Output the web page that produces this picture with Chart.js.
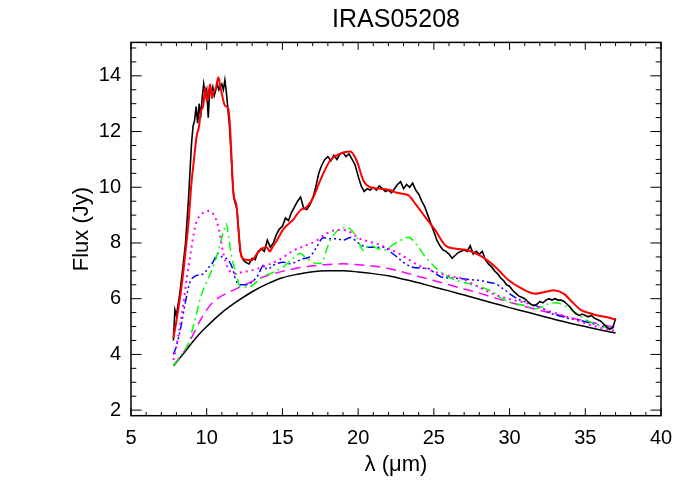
<!DOCTYPE html>
<html>
<head>
<meta charset="utf-8">
<script src="https://cdn.jsdelivr.net/npm/chart.js@4"></script>
<style>
  body { margin: 0; background: #fff; }
  #wrap { width: 700px; height: 500px; }
</style>
</head>
<body>
<div id="wrap"><canvas id="sed"></canvas></div>
<script>
// axis ticks
var xTickValues = [5, 10, 15, 20, 25, 30, 35, 40];
var yTickValues = [2, 4, 6, 8, 10, 12, 14];

// observed spectrum (black, noisy)
var obsWave = [7.8, 7.9, 8.0, 8.2, 8.4, 8.6, 8.8, 9.0, 9.1, 9.2,
  9.3, 9.4, 9.5, 9.6, 9.7, 9.8, 9.9, 10.0, 10.1, 10.2,
  10.3, 10.4, 10.5, 10.6, 10.7, 10.8, 10.9, 11.0, 11.1, 11.2,
  11.3, 11.4, 11.5, 11.6, 11.7, 11.8, 11.9, 12.0, 12.1, 12.2,
  12.4, 12.6, 12.8, 13.0, 13.2, 13.4, 13.6, 13.8, 14.0, 14.2,
  14.4, 14.6, 14.8, 15.0, 15.2, 15.4, 15.6, 15.8, 16.0, 16.2,
  16.4, 16.6, 16.8, 17.0, 17.2, 17.4, 17.6, 17.8, 18.0, 18.2,
  18.4, 18.6, 18.8, 19.0, 19.2, 19.4, 19.6, 19.8, 20.0, 20.2,
  20.4, 20.6, 20.8, 21.0, 21.2, 21.4, 21.6, 21.8, 22.0, 22.2,
  22.4, 22.6, 22.8, 23.0, 23.2, 23.4, 23.6, 23.8, 24.0, 24.2,
  24.4, 24.6, 24.8, 25.0, 25.2, 25.4, 25.6, 25.8, 26.0, 26.2,
  26.4, 26.6, 26.8, 27.0, 27.2, 27.4, 27.6, 27.8, 28.0, 28.2,
  28.4, 28.6, 28.8, 29.0, 29.2, 29.4, 29.6, 29.8, 30.0, 30.2,
  30.4, 30.6, 30.8, 31.0, 31.2, 31.4, 31.6, 31.8, 32.0, 32.2,
  32.4, 32.6, 32.8, 33.0, 33.2, 33.4, 33.6, 33.8, 34.0, 34.2,
  34.4, 34.6, 34.8, 35.0, 35.2, 35.4, 35.6, 35.8, 36.0, 36.2,
  36.4, 36.6, 36.8, 36.9, 37.0];
var obsFlux = [4.5, 5.6, 5.4, 6.1, 7.0, 8.0, 9.6, 11.6, 12.2, 12.4,
  12.9, 12.3, 13.0, 12.5, 13.2, 13.7, 13.3, 13.5, 12.5, 13.5,
  13.4, 13.6, 13.3, 13.5, 13.7, 13.5, 13.6, 13.7, 13.5, 13.85,
  13.4, 12.8, 12.2, 11.3, 10.3, 9.6, 9.4, 9.2, 8.5, 7.7,
  7.4, 7.3, 7.25, 7.45, 7.4, 7.7, 7.8, 7.7, 8.1, 7.85,
  8.0, 8.3, 8.5, 8.6, 8.9, 8.8, 9.1, 9.3, 9.5, 9.65,
  9.25, 9.2, 9.35, 9.6, 10.0, 10.5, 10.8, 11.0, 11.1, 10.95,
  11.15, 11.0, 11.2, 11.25, 11.1, 11.2, 11.0, 10.8, 10.4, 10.05,
  9.85, 9.95, 9.9, 10.0, 9.9, 10.05, 9.95, 9.85, 9.9, 9.8,
  9.95, 10.1, 10.2, 9.95, 10.1, 10.0, 10.15, 9.9, 9.75, 9.5,
  9.3, 9.0, 8.7, 8.4, 8.1, 7.9, 7.75, 7.7, 7.6, 7.45,
  7.55, 7.65, 7.7, 7.75, 7.7, 7.9, 7.6, 7.7, 7.6, 7.7,
  7.4, 7.25, 7.15, 7.0, 6.9, 6.75, 6.65, 6.5, 6.45, 6.3,
  6.2, 6.1, 6.05, 6.0, 5.9, 5.8, 5.75, 5.8, 5.9, 5.85,
  5.95, 6.0, 5.95, 6.0, 5.95, 5.95, 5.9, 5.8, 5.7, 5.55,
  5.45, 5.4, 5.45, 5.4, 5.35, 5.4, 5.3, 5.25, 5.2, 5.1,
  5.0, 4.9, 4.95, 5.1, 5.3];

// total model (red)
var modelWave = [7.8, 8.0, 8.2, 8.4, 8.6, 8.79, 9.0, 9.12, 9.34, 9.5,
  9.6, 9.78, 9.89, 10.0, 10.1, 10.22, 10.35, 10.44, 10.6, 10.77,
  10.9, 11.0, 11.2, 11.43, 11.54, 11.65, 11.76, 11.87, 11.98, 12.1,
  12.3, 12.6, 12.98, 13.3, 13.64, 13.97, 14.15, 14.4, 14.63, 15.07,
  15.73, 16.17, 16.61, 17.05, 17.49, 18.15, 18.8, 19.47, 19.9, 20.35,
  20.8, 21.68, 22.1, 22.56, 23.33, 23.77, 24.43, 25.1, 25.76, 26.4,
  27.3, 28.2, 29.06, 29.94, 30.82, 31.7, 32.4, 32.9, 33.57, 34.1,
  34.7, 35.3, 35.8, 36.3, 36.8, 37.0];
var modelFlux = [4.6, 5.2, 5.9, 6.7, 7.7, 8.69, 10.2, 10.8, 11.85, 12.2,
  12.7, 12.95, 13.59, 13.1, 13.25, 13.7, 13.2, 13.4, 13.55, 13.95,
  13.6, 13.35, 12.93, 12.81, 12.16, 10.96, 9.77, 9.53, 9.29, 8.45,
  7.5, 7.4, 7.38, 7.6, 7.8, 7.85, 7.7, 7.9, 8.09, 8.5,
  8.85, 9.17, 9.29, 9.65, 10.24, 10.96, 11.2, 11.28, 10.96, 10.24,
  10.0, 9.94, 9.9, 9.8, 9.71, 9.41, 8.93, 8.45, 7.91, 7.8,
  7.73, 7.5, 7.14, 6.66, 6.36, 6.18, 6.25, 6.3, 6.18, 5.9,
  5.6, 5.48, 5.4, 5.35, 5.28, 5.25];

// dust components
var contWave = [7.8, 8, 8.5, 9, 9.5, 10, 11, 12, 13, 14, 15, 16, 17, 18, 19, 20,
  21, 22, 23, 24, 25, 26, 27, 28, 29, 30, 31, 32, 33, 34, 35, 36, 37];
var contFlux = [3.58, 3.72, 4.05, 4.4, 4.72, 5.0, 5.5, 5.9, 6.25, 6.53, 6.75, 6.88, 6.97, 7.0, 7.0, 6.96,
  6.9, 6.82, 6.7, 6.57, 6.42, 6.28, 6.13, 5.98, 5.83, 5.68, 5.54, 5.4, 5.25, 5.12, 5.0, 4.88, 4.77];

var dashWave = [7.8, 8, 8.5, 9, 9.5, 10, 10.5, 11, 12, 13, 14, 15, 16, 17, 18, 19, 20,
  21, 22, 23, 24, 25, 26, 27, 28, 29, 30, 31, 32, 33, 34, 35, 36, 37];
var dashFlux = [3.6, 3.75, 4.1, 4.6, 5.15, 5.6, 5.92, 6.1, 6.37, 6.62, 6.83, 6.98, 7.1, 7.18, 7.23, 7.25, 7.22,
  7.17, 7.08, 6.95, 6.8, 6.65, 6.5, 6.35, 6.2, 6.03, 5.87, 5.72, 5.58, 5.45, 5.32, 5.2, 5.08, 4.97];

var blueWave = [7.8, 8.0, 8.3, 8.6, 8.9, 9.2, 9.5, 9.8, 10.1, 10.4,
  10.75, 11.0, 11.4, 11.7, 11.9, 12.2, 12.6, 13.0, 13.4, 13.75,
  14.0, 14.4, 15.07, 15.5, 16.0, 16.4, 16.8, 17.2, 17.7, 18.2,
  18.6, 19.0, 19.5, 20.0, 20.6, 21.2, 21.7, 22.2, 22.56, 23.0,
  23.55, 24.1, 24.65, 25.1, 25.5, 26.2, 26.86, 27.5, 27.96, 28.5,
  29.06, 29.6, 30.16, 30.7, 31.26, 31.7, 32.1, 32.6, 33.2, 33.8,
  34.7, 35.5, 36.2, 36.66, 37.0];
var blueFlux = [4.0, 4.3, 5.0, 5.9, 6.6, 6.8, 6.85, 6.9, 7.1, 7.3,
  7.62, 7.5, 7.4, 7.1, 6.7, 6.5, 6.5, 6.6, 6.85, 7.2,
  7.05, 7.2, 7.31, 7.25, 7.35, 7.44, 7.5, 7.8, 8.19, 8.15,
  8.15, 8.1, 8.2, 8.0, 7.85, 7.85, 7.85, 7.65, 7.5, 7.3,
  7.14, 7.1, 7.08, 6.9, 6.78, 6.74, 6.72, 6.68, 6.66, 6.6,
  6.54, 6.35, 6.12, 5.95, 5.85, 5.75, 5.68, 5.5, 5.4, 5.3,
  5.22, 5.1, 5.0, 4.93, 5.05];

var greenWave = [7.8, 8.2, 8.79, 9.2, 9.67, 10.0, 10.33, 10.77, 11.0, 11.21,
  11.3, 11.45, 11.65, 11.98, 12.2, 12.75, 13.3, 13.75, 14.19, 14.6,
  15.07, 15.6, 16.17, 16.5, 17.0, 17.5, 18.15, 18.8, 19.2, 19.47,
  19.9, 20.35, 20.8, 21.3, 21.8, 22.2, 22.56, 23.0, 23.33, 23.6,
  23.99, 24.3, 24.65, 25.3, 26.2, 27.3, 28.4, 29.0, 29.5, 30.4,
  31.0, 31.7, 32.2, 32.6, 33.1, 33.6, 34.0, 34.5, 35.1, 35.8,
  36.66, 37.0];
var greenFlux = [3.6, 3.9, 4.39, 5.2, 6.18, 6.6, 7.02, 7.73, 8.2, 8.57,
  8.69, 8.2, 7.5, 6.84, 6.42, 6.42, 6.6, 6.8, 6.9, 7.0,
  7.14, 7.4, 7.62, 7.5, 7.3, 7.26, 8.09, 8.51, 8.55, 8.51,
  8.21, 7.73, 7.91, 7.8, 7.75, 7.9, 8.03, 8.15, 8.21, 8.1,
  7.85, 7.6, 7.38, 7.02, 6.72, 6.54, 6.36, 6.2, 6.0, 5.82,
  5.75, 5.64, 5.72, 5.82, 5.85, 5.75, 5.64, 5.45, 5.22, 5.05,
  4.93, 4.9];

var dotWave = [7.8, 8.0, 8.2, 8.46, 8.7, 8.9, 9.23, 9.5, 9.89, 10.1,
  10.55, 10.8, 11.1, 11.4, 11.76, 12.42, 13.2, 13.97, 14.8, 15.73,
  16.5, 17.27, 17.8, 18.37, 18.8, 19.26, 19.7, 20.14, 20.7, 21.24,
  22.0, 22.78, 23.77, 24.4, 25.1, 26.0, 26.86, 27.5, 28.18, 28.8,
  29.5, 30.4, 31.26, 31.9, 32.47, 33.6, 34.7, 35.7, 36.66, 37.0];
var dotFlux = [3.8, 4.3, 4.9, 5.82, 6.8, 7.5, 8.57, 8.95, 9.11, 9.15,
  8.93, 8.5, 7.62, 7.1, 6.9, 6.96, 7.05, 7.2, 7.4, 7.73,
  7.9, 8.09, 8.3, 8.45, 8.47, 8.45, 8.3, 8.15, 8.05, 7.97,
  7.8, 7.6, 7.26, 7.1, 6.96, 6.82, 6.72, 6.55, 6.36, 6.2,
  6.06, 5.93, 5.82, 5.7, 5.58, 5.38, 5.17, 5.0, 4.87, 4.85];

// x/y pairs for the linear x axis
function pairs(xs, ys) {
  return xs.map(function(x, i) { return { x: x, y: ys[i] }; });
}

// box round the plot plus IDL style inward ticks
var frameTicks = {
  id: 'frameTicks',
  afterDatasetsDraw: function(chart) {
    var ctx = chart.ctx;
    var a = chart.chartArea;
    var xs = chart.scales.x;
    var ys = chart.scales.y;
    ctx.save();
    ctx.strokeStyle = '#000';
    ctx.lineWidth = 1.5;
    ctx.strokeRect(a.left, a.top, a.right - a.left, a.bottom - a.top);
    ctx.lineWidth = 1;
    ctx.beginPath();
    for (var v = xs.min; v <= xs.max + 0.001; v += 1) {
      var px = xs.getPixelForValue(v);
      var len = (Math.round(v) % 5 === 0) ? 7.5 : 3.7;
      ctx.moveTo(px, a.bottom); ctx.lineTo(px, a.bottom - len);
      ctx.moveTo(px, a.top); ctx.lineTo(px, a.top + len);
    }
    for (var w = 2; w <= ys.max + 0.001; w += 0.5) {
      var py = ys.getPixelForValue(w);
      var ylen = (w % 2 === 0) ? 10.6 : 5.3;
      ctx.moveTo(a.left, py); ctx.lineTo(a.left + ylen, py);
      ctx.moveTo(a.right, py); ctx.lineTo(a.right - ylen, py);
    }
    ctx.stroke();
    ctx.restore();
  }
};

var font = 'Liberation Sans, Arial, sans-serif';

var ctx = document.getElementById('sed');
var sedChart = new Chart(ctx, {
  type: 'line',
  data: {
    datasets: [
      {
        data: pairs(modelWave, modelFlux),
        borderColor: '#ff0000', borderWidth: 2,
        cubicInterpolationMode: 'monotone'
      },
      {
        data: pairs(obsWave, obsFlux),
        borderColor: '#000000', borderWidth: 1.6
      },
      {
        data: pairs(dotWave, dotFlux),
        borderColor: '#ff00ff', borderWidth: 2, borderDash: [2, 4],
        cubicInterpolationMode: 'monotone'
      },
      {
        data: pairs(greenWave, greenFlux),
        borderColor: '#00ff00', borderWidth: 1.5, borderDash: [9, 4, 2, 4],
        cubicInterpolationMode: 'monotone'
      },
      {
        data: pairs(blueWave, blueFlux),
        borderColor: '#0000ff', borderWidth: 1.5, borderDash: [8, 3, 2, 3, 2, 3, 2, 3],
        cubicInterpolationMode: 'monotone'
      },
      {
        data: pairs(dashWave, dashFlux),
        borderColor: '#ff00ff', borderWidth: 1.5, borderDash: [10, 6],
        cubicInterpolationMode: 'monotone'
      },
      {
        data: pairs(contWave, contFlux),
        borderColor: '#000000', borderWidth: 1.5,
        cubicInterpolationMode: 'monotone'
      }
    ]
  },
  options: {
    responsive: true,
    maintainAspectRatio: false,
    animation: false,
    elements: { point: { radius: 0 }, line: { fill: false } },
    layout: { padding: { left: 65, right: 39, top: 0, bottom: 18 } },
    plugins: {
      legend: { display: false },
      tooltip: { enabled: false },
      title: {
        display: true,
        text: 'IRAS05208',
        fullSize: false,
        color: '#000',
        font: { family: font, size: 25, weight: 'normal' },
        padding: { top: 5, bottom: 7.4 }
      }
    },
    scales: {
      x: {
        type: 'linear',
        min: 5, max: 40,
        afterBuildTicks: function(axis) {
          axis.ticks = xTickValues.map(function(v) { return { value: v }; });
        },
        afterFit: function(axis) { axis.height = 66.3; },
        grid: { display: false, drawTicks: false },
        border: { display: false },
        ticks: { color: '#000', padding: 11, maxRotation: 0, font: { family: font, size: 20 } },
        title: {
          display: true, text: 'λ (μm)', color: '#000',
          font: { family: font, size: 22 }, padding: { top: 4, bottom: 4 }
        }
      },
      y: {
        type: 'linear',
        min: 1.8, max: 15.2,
        afterBuildTicks: function(axis) {
          axis.ticks = yTickValues.map(function(v) { return { value: v }; });
        },
        afterFit: function(axis) { axis.width = 66; },
        grid: { display: false, drawTicks: false },
        border: { display: false },
        ticks: { color: '#000', padding: 10, font: { family: font, size: 20 } },
        title: {
          display: true, text: 'Flux (Jy)', color: '#000',
          font: { family: font, size: 22 }, padding: { top: 4, bottom: 4 }
        }
      }
    }
  },
  plugins: [frameTicks]
});
</script>
</body>
</html>
